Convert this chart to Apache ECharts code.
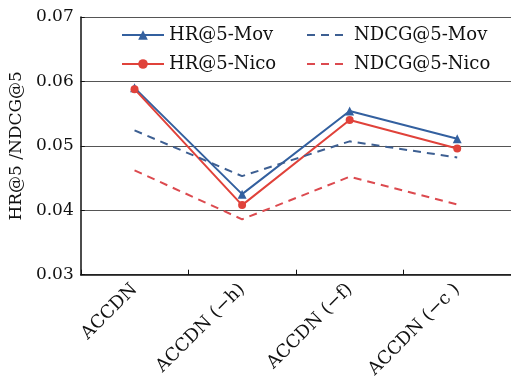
<!DOCTYPE html>
<html>
<head>
<meta charset="utf-8">
<script src="https://cdn.jsdelivr.net/npm/echarts@6/dist/echarts.min.js"></script>
<style>
  html, body { margin: 0; padding: 0; background: #fff; }
  #chart { width: 511px; height: 381px; }
</style>
</head>
<body>
<div id="chart"></div>
<script>
const categories = ["ACCDN", "ACCDN (−h)", "ACCDN (−f)", "ACCDN (−c )"];
const hrMov = [0.0590, 0.0425, 0.0554, 0.0511];
const hrNico = [0.0588, 0.0408, 0.0540, 0.0496];
const ndcgMov = [0.0524, 0.0453, 0.0507, 0.0482];
const ndcgNico = [0.0462, 0.0386, 0.0452, 0.0409];

const FONT = "DejaVu Serif";
const BLUE = "#33609f";
const RED = "#e0423a";
const BLUE_D = "#3d5f92";
const RED_D = "#dc4a4f";

const chart = echarts.init(document.getElementById("chart"));

const legendText = { fontFamily: FONT, fontSize: 18, color: "#111" };

chart.setOption({
  animation: false,
  textStyle: { fontFamily: FONT, color: "#111" },
  grid: { left: 80, right: 0, top: 17, bottom: 103 },
  legend: [
    {
      data: ["HR@5-Mov", "HR@5-Nico"],
      orient: "vertical",
      left: 116,
      top: 21,
      itemWidth: 42,
      itemHeight: 12,
      itemGap: 11,
      textStyle: legendText
    },
    {
      data: [
        { name: "NDCG@5-Mov", itemStyle: { opacity: 0 } },
        { name: "NDCG@5-Nico", itemStyle: { opacity: 0 } }
      ],
      orient: "vertical",
      left: 301,
      top: 21,
      itemWidth: 42,
      itemHeight: 12,
      itemGap: 11,
      textStyle: legendText
    }
  ],
  xAxis: {
    type: "category",
    data: categories,
    boundaryGap: true,
    axisLine: { lineStyle: { color: "#111", width: 1.5 } },
    axisTick: { show: true, inside: true, length: 5, lineStyle: { color: "#111" } },
    axisLabel: {
      rotate: 45,
      interval: 0,
      margin: 12,
      fontFamily: FONT,
      fontSize: 18,
      color: "#111"
    }
  },
  yAxis: {
    type: "value",
    min: 0.03,
    max: 0.07,
    interval: 0.01,
    name: "HR@5 /NDCG@5",
    nameLocation: "middle",
    nameGap: 54,
    nameTextStyle: { fontFamily: FONT, fontSize: 17, color: "#111" },
    axisLine: { show: true, lineStyle: { color: "#111", width: 1.5 } },
    axisTick: { show: true, inside: true, length: 4, lineStyle: { color: "#111" } },
    axisLabel: {
      fontFamily: FONT,
      fontSize: 17,
      color: "#111",
      margin: 7,
      formatter: (v) => v.toFixed(2)
    },
    splitLine: { show: true, lineStyle: { color: "#555", width: 1 } }
  },
  series: [
    {
      name: "HR@5-Mov",
      type: "line",
      data: hrMov,
      symbol: "triangle",
      symbolSize: 9,
      lineStyle: { color: BLUE, width: 2 },
      itemStyle: { color: BLUE }
    },
    {
      name: "HR@5-Nico",
      type: "line",
      data: hrNico,
      symbol: "circle",
      symbolSize: 8,
      lineStyle: { color: RED, width: 2 },
      itemStyle: { color: RED }
    },
    {
      name: "NDCG@5-Mov",
      type: "line",
      data: ndcgMov,
      symbol: "none",
      lineStyle: { color: BLUE_D, width: 2, type: [8, 6] },
      itemStyle: { color: BLUE_D }
    },
    {
      name: "NDCG@5-Nico",
      type: "line",
      data: ndcgNico,
      symbol: "none",
      lineStyle: { color: RED_D, width: 2, type: [8, 6] },
      itemStyle: { color: RED_D }
    }
  ]
});
</script>
</body>
</html>
